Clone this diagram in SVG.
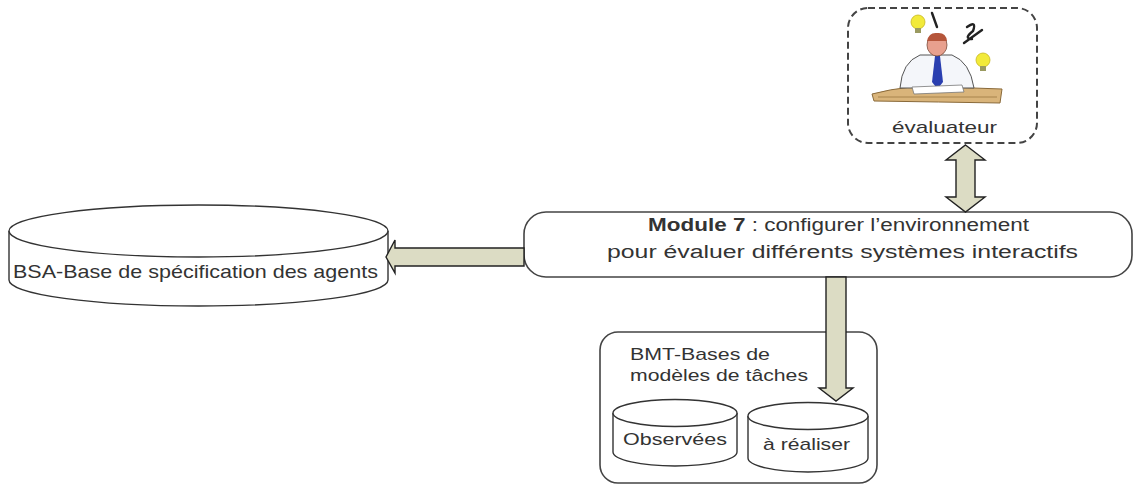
<svg xmlns="http://www.w3.org/2000/svg" width="1134" height="486" viewBox="0 0 1134 486">
  <defs>
    <style>
      .lbl { font-family: "Liberation Sans", Arial, sans-serif; fill: #333; }
      .box { fill: #fff; stroke: #444; stroke-width: 1.6; }
      .cyl { fill: #fff; stroke: #333; stroke-width: 1.4; }
      .arrow { fill: #dcdcc4; stroke: #222; stroke-width: 1.4; stroke-linejoin: miter; }
    </style>
  </defs>
  <rect width="1134" height="486" fill="#fff"/>

  <!-- evaluator actor -->
  <g id="evaluateur">
    <rect x="848" y="8" width="189" height="135" rx="20" ry="20" fill="#fff" stroke="#444" stroke-width="2" stroke-dasharray="7,4"/>
    <!-- desk -->
    <path d="M872 94 Q910 84 945 87 L1002 89 L1000 103 Q940 102 874 101 Z" fill="#d9b47a" stroke="#8a6a3a" stroke-width="1"/>
    <path d="M878 97 L997 97" stroke="#a8844c" stroke-width="1"/>
    <!-- shirt -->
    <path d="M900 88 Q902 62 920 55 L952 55 Q970 62 974 88 Z" fill="#f4f6fa" stroke="#555" stroke-width="1"/>
    <!-- tie -->
    <path d="M935 56 L940 56 L943 82 L937.5 89 L932 82 Z" fill="#2a3fb0"/>
    <!-- head -->
    <ellipse cx="937" cy="45" rx="10" ry="11" fill="#e8a08e" stroke="#7a4a3a" stroke-width="0.8"/>
    <path d="M927 41 Q929 32 937 33 Q946 32 947 41" fill="#b5553a"/>
    <!-- paper under the hands -->
    <path d="M912 87 L962 85 L964 92 L914 94 Z" fill="#fff" stroke="#777" stroke-width="0.8"/>
    <!-- light bulbs -->
    <circle cx="918" cy="22" r="7" fill="#f2ea3a" stroke="#c8b820" stroke-width="0.8"/>
    <rect x="915" y="28" width="6" height="5" fill="#9a9a60"/>
    <circle cx="983" cy="60" r="7" fill="#f2ea3a" stroke="#c8b820" stroke-width="0.8"/>
    <rect x="980" y="66" width="6" height="5" fill="#9a9a60"/>
    <!-- thought marks -->
    <path d="M932 13 L937 27" stroke="#222" stroke-width="2.4" stroke-linecap="round"/>
    <path d="M967 27 Q977 20 973 31 Q963 39 972 39 M964 43 L982 30" fill="none" stroke="#222" stroke-width="2.4" stroke-linecap="round"/>
    <text class="lbl" x="892" y="133" font-size="17" textLength="105" lengthAdjust="spacingAndGlyphs">évaluateur</text>
  </g>

  <!-- agent specification base -->
  <g id="bsa">
    <path class="cyl" d="M9 231 L9 280 A189.5 26 0 0 0 388 280 L388 231"/>
    <ellipse class="cyl" cx="198.5" cy="231" rx="189.5" ry="26"/>
    <text class="lbl" x="13" y="278" font-size="19" textLength="365" lengthAdjust="spacingAndGlyphs">BSA-Base de spécification des agents</text>
  </g>

  <!-- module 7 -->
  <g id="module7">
    <rect class="box" x="524" y="212" width="608" height="65" rx="22" ry="22"/>
    <text class="lbl" x="648" y="231" font-size="18" textLength="381" lengthAdjust="spacingAndGlyphs"><tspan font-weight="bold">Module 7</tspan> : configurer l’environnement</text>
    <text class="lbl" x="607" y="258" font-size="18" textLength="471" lengthAdjust="spacingAndGlyphs">pour évaluer différents systèmes interactifs</text>
  </g>

  <!-- task model bases -->
  <g id="bmt">
    <rect class="box" x="600" y="332" width="277" height="151" rx="18" ry="18"/>
    <text class="lbl" x="630" y="360" font-size="17" textLength="140" lengthAdjust="spacingAndGlyphs">BMT-Bases de</text>
    <text class="lbl" x="630" y="381" font-size="17" textLength="178" lengthAdjust="spacingAndGlyphs">modèles de tâches</text>
  </g>
  <g id="observees">
    <path class="cyl" d="M613 413 L613 452 A62 14 0 0 0 737 452 L737 413"/>
    <ellipse class="cyl" cx="675" cy="413" rx="62" ry="13.5"/>
    <text class="lbl" x="623" y="445" font-size="17" textLength="104" lengthAdjust="spacingAndGlyphs">Observées</text>
  </g>
  <g id="a-realiser">
    <path class="cyl" d="M748 416 L748 458 A60 14 0 0 0 868 458 L868 416"/>
    <ellipse class="cyl" cx="808" cy="416" rx="60" ry="13.5"/>
    <text class="lbl" x="763" y="450" font-size="17" textLength="87" lengthAdjust="spacingAndGlyphs">à réaliser</text>
  </g>

  <!-- block arrows -->
  <g id="connectors">
    <!-- evaluateur <-> module 7 -->
    <path class="arrow" d="M965.5 145 L985 160 L975 160 L975 197 L985 197 L965.5 212 L946 197 L956 197 L956 160 L946 160 Z"/>
    <!-- module 7 -> BSA -->
    <path class="arrow" d="M524 248 L395 248 L395 240 L386 257 L395 273 L395 266 L524 266 Z"/>
    <!-- module 7 -> à réaliser -->
    <path class="arrow" d="M826 277 L826 388 L819 388 L836 401 L853 388 L846 388 L846 277 Z"/>
  </g>
</svg>
